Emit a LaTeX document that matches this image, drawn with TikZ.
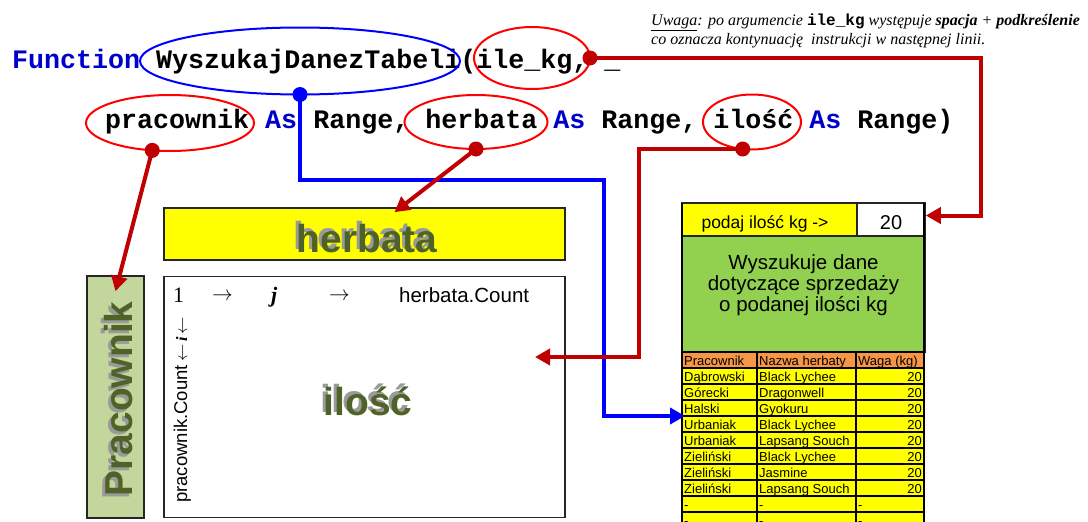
\documentclass[tikz,border=0pt]{standalone}
\usepackage{fontspec}
\setmainfont{Liberation Serif}
\setsansfont{Liberation Sans}
\setmonofont{Liberation Mono}
\usetikzlibrary{arrows.meta,shapes.geometric}

\newcommand\fsz[2]{\fontsize{#1}{#2}\selectfont}
% grey copy behind the text, shifted up and left
\newcommand\embossed[1]{\rlap{\kern-3pt\raisebox{3pt}{\color{shadowgrey}#1}}#1}

\begin{document}
\begin{tikzpicture}[x=1pt,y=-1pt,
    code/.style={anchor=base west,inner sep=0pt,font=\ttfamily\bfseries\fsz{26.67}{32}},
    ring/.style={ellipse,draw=#1,line width=2pt,inner sep=0pt,outer sep=0pt},
    knob/.style={circle,fill=#1,inner sep=0pt,minimum size=15pt},
    link/.style={draw=#1,line width=4pt,-{Triangle[length=15pt,width=16pt]}},
    box/.style={draw=black!85,line width=1.6pt,inner sep=0pt},
    emboss/.style={inner sep=0pt,text=olivetxt,font=\sffamily\bfseries\fsz{39}{44}},
    cell/.style={anchor=base west,inner sep=0pt,font=\sffamily\fsz{13}{15}},
    note/.style={anchor=base west,inner sep=0pt,font=\itshape\fsz{16}{18}},
    gridline/.style={draw=black,line width=1.3pt},
  ]
    \definecolor{kwblue}{HTML}{0000CC}
    \definecolor{ringred}{HTML}{FF0000}
    \definecolor{ringblue}{HTML}{0000FF}
    \definecolor{linkred}{HTML}{C00000}
    \definecolor{linkblue}{HTML}{0000FF}
    \definecolor{olivetxt}{HTML}{4F6228}
    \definecolor{shadowgrey}{HTML}{9A9A9A}
    \definecolor{pracgreen}{HTML}{C3D69B}
    \definecolor{findgreen}{HTML}{92D050}
    \definecolor{hdrorange}{HTML}{F79646}
    \definecolor{cellyellow}{HTML}{FFFF00}

    \useasboundingbox (0,0) rectangle (1088,522);
    \clip (0,0) rectangle (1088,522);

    % remark in the corner
    \node[note] (note1) at (651,25) {\underline{Uwaga}: po argumencie {\upshape\ttfamily\bfseries ile\_kg} występuje \textbf{spacja} + \textbf{podkreślenie}};
    \node[note] (note2) at (651,44) {co oznacza kontynuację\ \ instrukcji w następnej linii.};

    % function header, two lines
    \node[code] (sig1) at (12,68) {\textcolor{kwblue}{Function} WyszukajDanezTabeli(ile\_kg, \_};
    \node[code] (sig2) at (105,128) {pracownik \textcolor{kwblue}{As} Range, herbata \textcolor{kwblue}{As} Range, ilość \textcolor{kwblue}{As} Range)};

    \node[ring=ringblue,minimum width=320pt,minimum height=67pt] (eFunc) at (300,61) {};
    \node[ring=ringred,minimum width=116pt,minimum height=62pt] (eIle) at (532,58) {};
    \node[ring=ringred,minimum width=168pt,minimum height=56pt] (ePrac) at (170,123) {};
    \node[ring=ringred,minimum width=143pt,minimum height=54pt] (eHerb) at (476,122) {};
    \node[ring=ringred,minimum width=98pt,minimum height=55pt] (eIlosc) at (752,122) {};

    \node[knob=linkred] (dIle) at (eIle.east) {};
    \node[knob=linkblue] (dFunc) at (eFunc.south) {};
    \node[knob=linkred] (dPrac) at (ePrac.-123) {};
    \node[knob=linkred] (dHerb) at (eHerb.south) {};
    \node[knob=linkred] (dIlosc) at (eIlosc.-109) {};

    % ranges on the sheet
    \node[box,fill=cellyellow,minimum width=401pt,minimum height=52pt] (herbBox) at (364.5,234) {};
    \node[box,fill=white,minimum width=401pt,minimum height=241pt] (matBox) at (364.5,397) {};
    \node[box,fill=pracgreen,minimum width=57pt,minimum height=242pt] (pracBox) at (115.5,397) {};

    \node[emboss] (herbTxt) at (367,237) {\embossed{herbata}};
    \node[emboss,rotate=90] (pracTxt) at (117,399) {\embossed{Pracownik}};
    \node[emboss] (iloscTxt) at (368,400) {\embossed{ilość}};

    \node[anchor=base west,inner sep=0pt,font=\fsz{22}{26}] (oneTxt) at (173,302) {1};
    \node[anchor=base west,inner sep=0pt,font=\fsz{20}{24}] (jArrA) at (212,300) {$\rightarrow$};
    \node[anchor=base west,inner sep=0pt,font=\bfseries\itshape\fsz{22}{26}] (jTxt) at (271,302) {j};
    \node[anchor=base west,inner sep=0pt,font=\fsz{20}{24}] (jArrB) at (329,300) {$\rightarrow$};
    \node[anchor=base west,inner sep=0pt,font=\sffamily\fsz{20.5}{24}] (herbCount) at (399,302) {herbata.Count};
    \node[anchor=base west,inner sep=0pt,rotate=90,font=\sffamily\fsz{18.5}{22}] (pracCount) at (187,503)
      {pracownik.Count\,{\rmfamily\fsz{16}{18}$\leftarrow$\,\textbf{\textit{i}}\,$\leftarrow$}};

    % result table
    \node[box,fill=cellyellow,minimum width=175pt,minimum height=33pt] (kgAskCell) at (769.5,219.5) {};
    \node[box,fill=white,minimum width=68pt,minimum height=33pt] (kgCell) at (891,219.5) {};
    \node[anchor=base,inner sep=0pt,font=\sffamily\fsz{17.5}{20}] (kgAsk) at (765,228) {podaj ilość kg ->};
    \node[anchor=base,inner sep=0pt,font=\sffamily\fsz{20}{24}] (kgVal) at (891,229) {20};
    \node[box,fill=findgreen,minimum width=243pt,minimum height=116pt] (findBox) at (803.5,294) {};
    \node[align=center,inner sep=0pt,font=\sffamily\fsz{20.5}{21}] (findTxt) at (803.5,285.5)
      {Wyszukuje dane\\dotyczące sprzedaży\\o podanej ilości kg};

    \foreach \x/\w/\t [count=\c] in {682/75/Pracownik,757/99/Nazwa herbaty,856/68/Waga (kg)} {
        \draw[gridline,fill=hdrorange] (\x,352) rectangle ++(\w,16);
        \node[cell] (hdr\c) at (\x+2,365.5) {\t};
    }
    \foreach \who/\tea [count=\r from 0] in {Dąbrowski/Black Lychee,Górecki/Dragonwell,Halski/Gyokuru,
        Urbaniak/Black Lychee,Urbaniak/Lapsang Souch,Zieliński/Black Lychee,Zieliński/Jasmine,
        Zieliński/Lapsang Souch,-/-,-/-} {
        \draw[gridline,fill=cellyellow] (682,368+16*\r) rectangle ++(242,16);
        \node[cell] (who\r) at (684,381.5+16*\r) {\who};
        \node[cell] (tea\r) at (759,381.5+16*\r) {\tea};
    }
    \foreach \r in {0,...,7}
        \node[cell,anchor=base east] (kg\r) at (922,381.5+16*\r) {20};
    \foreach \r in {8,9}
        \node[cell] (kg\r) at (858,381.5+16*\r) {-};
    \foreach \x in {757,856}
        \draw[black,line width=2.5pt] (\x,352) -- (\x,530);
    \draw[black,line width=2pt] (682,203) -- (682,530) (924,203) -- (924,530);

    % links from the arguments
    \coordinate (blueBend) at (604,180);
    \coordinate (hitRow) at (685,416);
    \coordinate (iloscHit) at (535,357);
    \draw[link=linkblue] (dFunc.center) |- (blueBend) |- (hitRow);
    \draw[link=linkred] (dIle.center) -- ++(391,0) |- ([yshift=4pt]kgCell.east);
    \draw[link=linkred] (dHerb.center) -- ([xshift=30pt,yshift=-5pt]herbBox.north);
    \draw[link=linkred] (dIlosc.center) -| ([xshift=104pt]iloscHit) -- (iloscHit);
    \draw[link=linkred] (dPrac.center) -- ([yshift=-16pt]pracBox.north);
\end{tikzpicture}
\end{document}
